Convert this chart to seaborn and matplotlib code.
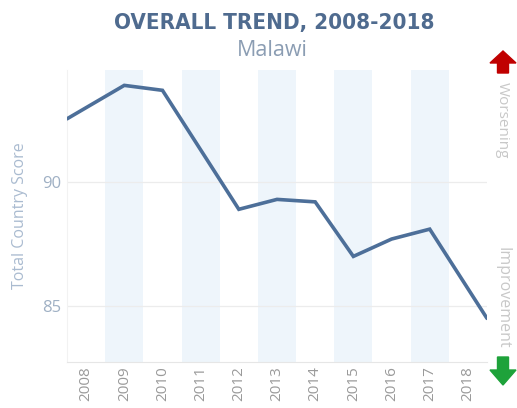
import numpy as np
import pandas as pd
import matplotlib
matplotlib.use("Agg")
import matplotlib.pyplot as plt
from matplotlib.patches import FancyArrow
import seaborn as sns

# Total country score by year
years = ["2008", "2009", "2010", "2011", "2012", "2013",
         "2014", "2015", "2016", "2017", "2018"]
scores = [93.0, 93.9, 93.7, 91.3, 88.9, 89.3, 89.2, 87.0, 87.7, 88.1, 85.7]
y_ticks = [85, 90]

LINE = "#4d6f99"
BAND = "#eef5fb"
GRID = "#ececec"
TICK = "#9fb0c4"
XTICK = "#9a9a9a"

sns.set_style("white")
plt.rcParams["font.family"] = ["Open Sans", "DejaVu Sans"]

fig = plt.figure(figsize=(5.17, 4.08), dpi=100)
ax = fig.add_axes([67 / 517, 1 - 362 / 408, 420 / 517, 292 / 408])

pos = np.arange(len(years), dtype=float)
vals = np.array(scores, dtype=float)

# extend the trend half a column beyond the first and last year
left = vals[0] - 0.5 * (vals[1] - vals[0])
right = vals[-1] + 0.5 * (vals[-1] - vals[-2])
df = pd.DataFrame({
    "x": np.concatenate([[pos[0] - 0.5], pos, [pos[-1] + 0.5]]),
    "score": np.concatenate([[left], vals, [right]]),
})

# alternate column shading
for i in range(1, len(years), 2):
    ax.axvspan(i - 0.5, i + 0.5, color=BAND, lw=0, zorder=0)

for t in y_ticks:
    ax.axhline(t, color=GRID, lw=0.9, zorder=1)

sns.lineplot(data=df, x="x", y="score", ax=ax, color=LINE, lw=2.6,
             zorder=3, solid_joinstyle="miter")

ax.set_xlim(-0.5, len(years) - 0.5)
ax.set_ylim(82.74, 94.52)
ax.set_xticks(pos)
ax.set_xticklabels(years, rotation=90, color=XTICK, fontsize=11)
ax.set_yticks(y_ticks)
ax.set_yticklabels([str(t) for t in y_ticks], color=TICK, fontsize=12)
ax.tick_params(axis="x", length=0, pad=3)
ax.tick_params(axis="y", length=0, pad=4)
ax.set_xlabel("")
ax.set_ylabel("Total Country Score", color="#aabbd0", fontsize=11.5, labelpad=10)
for s in ["top", "right"]:
    ax.spines[s].set_visible(False)
ax.spines["left"].set_color("#f2f2f2")
ax.spines["bottom"].set_color("#e6e6e6")
ax.spines["left"].set_linewidth(0.8)
ax.spines["bottom"].set_linewidth(0.8)

fig.text(0.53, 1 - 23 / 408, "OVERALL TREND, 2008-2018", ha="center", va="center",
         fontsize=16, fontweight="bold", color="#4f6b8f",
         family=["DejaVu Sans"], fontstretch="condensed")
fig.text(0.527, 1 - 50 / 408, "Malawi", ha="center", va="center",
         fontsize=15.5, color="#8b9db3")

# direction markers on the right
fig.text(502 / 517, 1 - 120 / 408, "Worsening", rotation=-90, ha="center",
         va="center", fontsize=11, color="#c8c8c8")
fig.text(502 / 517, 1 - 298 / 408, "Improvement", rotation=-90, ha="center",
         va="center", fontsize=11.5, color="#c8c8c8")

W, H = 517.0, 408.0
fig.patches.append(FancyArrow(503 / W, 1 - 73 / H, 0, 22 / H, width=11 / W,
                              head_width=26 / W, head_length=12 / H,
                              length_includes_head=True, color="#c00000",
                              transform=fig.transFigure, figure=fig))
fig.patches.append(FancyArrow(503 / W, 1 - 357 / H, 0, -28 / H, width=11 / W,
                              head_width=26 / W, head_length=15 / H,
                              length_includes_head=True, color="#1ea23a",
                              transform=fig.transFigure, figure=fig))

fig.savefig("out.png", dpi=100)
